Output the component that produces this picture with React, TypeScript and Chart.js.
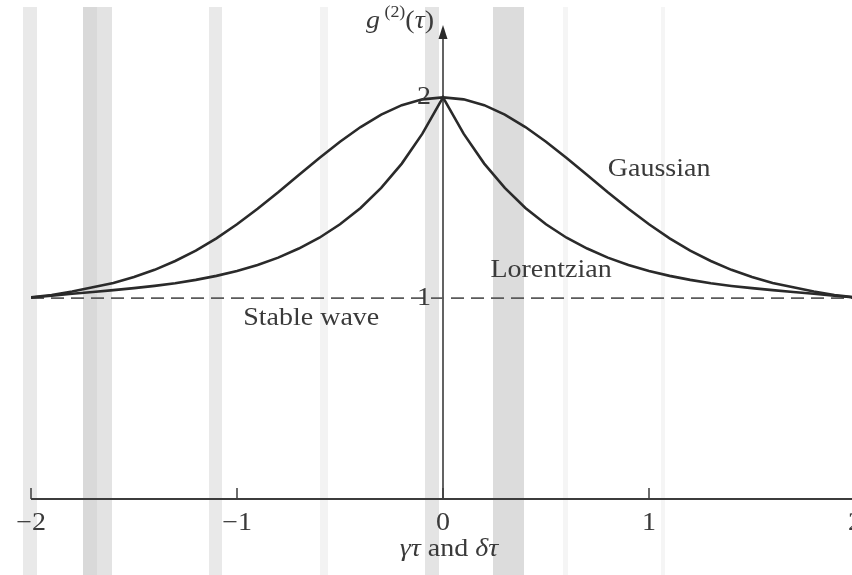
import React, { useEffect, useRef } from "react";
import { Chart, registerables } from "chart.js";

Chart.register(...registerables);

// Sample positions (γτ or δτ) shared by both curves
const X_VALUES = [
  -2, -1.9, -1.8, -1.7, -1.6, -1.5, -1.4, -1.3, -1.2, -1.1, -1,
  -0.9, -0.8, -0.7, -0.6, -0.5, -0.4, -0.3, -0.2, -0.1, 0,
  0.1, 0.2, 0.3, 0.4, 0.5, 0.6, 0.7, 0.8, 0.9, 1,
  1.1, 1.2, 1.3, 1.4, 1.5, 1.6, 1.7, 1.8, 1.9, 2,
];

// g(2)(τ) for Gaussian-broadened light
const GAUSSIAN = [
  1.004, 1.016, 1.033, 1.054, 1.075, 1.105, 1.141, 1.185, 1.237, 1.298, 1.368,
  1.445, 1.527, 1.613, 1.698, 1.779, 1.852, 1.914, 1.961, 1.99, 2,
  1.99, 1.961, 1.914, 1.852, 1.779, 1.698, 1.613, 1.527, 1.445, 1.368,
  1.298, 1.237, 1.185, 1.141, 1.105, 1.075, 1.054, 1.033, 1.016, 1.004,
];

// g(2)(τ) for Lorentzian-broadened light
const LORENTZIAN = [
  1.003, 1.012, 1.022, 1.031, 1.04, 1.05, 1.061, 1.074, 1.091, 1.111, 1.135,
  1.165, 1.202, 1.247, 1.301, 1.368, 1.449, 1.549, 1.67, 1.819, 2,
  1.819, 1.67, 1.549, 1.449, 1.368, 1.301, 1.247, 1.202, 1.165, 1.135,
  1.111, 1.091, 1.074, 1.061, 1.05, 1.04, 1.031, 1.022, 1.012, 1.003,
];

// Stable wave: constant g(2) = 1
const STABLE_X = [-2, 2];
const STABLE_Y = [1, 1];

const X_TICKS = [-2, -1, 0, 1, 2];
const X_TICK_LABELS = ["\u22122", "\u22121", "0", "1", "2"];
const Y_TICKS = [1, 2];
const Y_TICK_LABELS = ["1", "2"];

const SERIF = '"Liberation Serif", "DejaVu Serif", serif';
const INK = "#2a2a2a";
const TEXT = "#3a3a3a";
const SX = 1.12;

// Pale vertical stripes over the page background: [left, width, colour]
const STRIPES: [number, number, string][] = [
  [23, 14, "#e9e9e9"],
  [83, 14, "#d9d9d9"],
  [97, 15, "#e3e3e3"],
  [209, 13, "#e9e9e9"],
  [320, 8, "#f3f3f3"],
  [425, 14, "#e4e4e4"],
  [493, 31, "#dcdcdc"],
  [563, 5, "#f5f5f5"],
  [661, 4, "#f5f5f5"],
];

type Run = { t: string; italic?: boolean; scale?: number; dy?: number };

function drawRuns(
  ctx: CanvasRenderingContext2D,
  runs: Run[],
  x: number,
  y: number,
  size: number,
  align: "left" | "center" | "right"
) {
  ctx.save();
  ctx.textBaseline = "middle";
  ctx.textAlign = "left";
  ctx.fillStyle = TEXT;
  const fontOf = (r: Run) =>
    `${r.italic ? "italic " : ""}${Math.round(size * (r.scale ?? 1))}px ${SERIF}`;
  let total = 0;
  for (const r of runs) {
    ctx.font = fontOf(r);
    total += ctx.measureText(r.t).width;
  }
  total *= SX;
  let cx = align === "left" ? x : align === "center" ? x - total / 2 : x - total;
  for (const r of runs) {
    ctx.font = fontOf(r);
    const w = ctx.measureText(r.t).width;
    ctx.save();
    ctx.translate(cx, y + (r.dy ?? 0));
    ctx.scale(SX, 1);
    ctx.fillText(r.t, 0, 0);
    ctx.restore();
    cx += w * SX;
  }
  ctx.restore();
}

const stripesPlugin = {
  id: "stripes",
  beforeDraw(chart: any) {
    const { ctx, width, height } = chart;
    ctx.save();
    ctx.fillStyle = "#ffffff";
    ctx.fillRect(0, 0, width, height);
    for (const [left, w, c] of STRIPES) {
      ctx.fillStyle = c;
      ctx.fillRect(left, 7, w, height - 7);
    }
    ctx.restore();
  },
};

const axesPlugin = {
  id: "figureAxes",
  beforeDatasetsDraw(chart: any) {
    const { ctx, width } = chart;
    const xs = chart.scales.x;
    const ys = chart.scales.y;
    const y0 = ys.getPixelForValue(0);
    const x0 = xs.getPixelForValue(0);
    ctx.save();
    ctx.strokeStyle = "#3c3c3c";
    // horizontal axis with upward ticks
    ctx.lineWidth = 2;
    ctx.beginPath();
    ctx.moveTo(xs.getPixelForValue(-2), y0);
    ctx.lineTo(width, y0);
    ctx.stroke();
    ctx.lineWidth = 1.5;
    for (const v of X_TICKS) {
      const px = xs.getPixelForValue(v);
      ctx.beginPath();
      ctx.moveTo(px, y0);
      ctx.lineTo(px, y0 - 11);
      ctx.stroke();
    }
    // vertical axis with arrow head
    const tip = ys.getPixelForValue(2.36);
    ctx.lineWidth = 1.6;
    ctx.beginPath();
    ctx.moveTo(x0, y0);
    ctx.lineTo(x0, tip + 8);
    ctx.stroke();
    ctx.fillStyle = "#2a2a2a";
    ctx.beginPath();
    ctx.moveTo(x0, tip);
    ctx.lineTo(x0 - 4.5, tip + 14);
    ctx.lineTo(x0 + 4.5, tip + 14);
    ctx.closePath();
    ctx.fill();
    ctx.restore();
  },
  afterDatasetsDraw(chart: any) {
    const { ctx } = chart;
    const xs = chart.scales.x;
    const ys = chart.scales.y;
    const y0 = ys.getPixelForValue(0);
    const x0 = xs.getPixelForValue(0);
    X_TICKS.forEach((v, i) => {
      drawRuns(ctx, [{ t: X_TICK_LABELS[i] }], xs.getPixelForValue(v), y0 + 24, 25, "center");
    });
    Y_TICKS.forEach((v, i) => {
      drawRuns(ctx, [{ t: Y_TICK_LABELS[i] }], x0 - 12, ys.getPixelForValue(v), 25, "right");
    });
    // axis titles
    drawRuns(
      ctx,
      [
        { t: "g", italic: true },
        { t: " (2)", scale: 0.62, dy: -8 },
        { t: "(" },
        { t: "τ", italic: true },
        { t: ")" },
      ],
      x0 - 9,
      ys.getPixelForValue(2.38),
      25,
      "right"
    );
    drawRuns(
      ctx,
      [
        { t: "γτ", italic: true },
        { t: " and " },
        { t: "δτ", italic: true },
      ],
      x0 + 6,
      y0 + 50,
      25,
      "center"
    );
    // curve names
    drawRuns(ctx, [{ t: "Gaussian" }], xs.getPixelForValue(0.8), ys.getPixelForValue(1.64), 25, "left");
    drawRuns(ctx, [{ t: "Lorentzian" }], xs.getPixelForValue(0.23), ys.getPixelForValue(1.14), 25, "left");
    drawRuns(ctx, [{ t: "Stable wave" }], xs.getPixelForValue(-0.97), ys.getPixelForValue(0.9), 25, "left");
  },
};

export default function App() {
  const ref = useRef<HTMLCanvasElement | null>(null);

  useEffect(() => {
    if (!ref.current) return;
    const pts = (xv: number[], yv: number[]) => xv.map((x, i) => ({ x, y: yv[i] }));
    const chart = new Chart(ref.current, {
      type: "line",
      data: {
        datasets: [
          {
            label: "Gaussian",
            data: pts(X_VALUES, GAUSSIAN),
            borderColor: INK,
            borderWidth: 2.6,
            pointRadius: 0,
            tension: 0,
            order: 1,
          },
          {
            label: "Lorentzian",
            data: pts(X_VALUES, LORENTZIAN),
            borderColor: INK,
            borderWidth: 2.6,
            pointRadius: 0,
            tension: 0,
            order: 2,
          },
          {
            label: "Stable wave",
            data: pts(STABLE_X, STABLE_Y),
            borderColor: "#5a5a5a",
            borderWidth: 1.7,
            borderDash: [13, 7],
            pointRadius: 0,
            order: 3,
          },
        ],
      },
      options: {
        responsive: false,
        animation: false,
        layout: { padding: { left: 31, right: 25, top: 17, bottom: 76 } },
        plugins: {
          legend: { display: false },
          tooltip: { enabled: false },
        },
        scales: {
          x: { type: "linear", min: -2, max: 2, display: false },
          y: { type: "linear", min: 0, max: 2.4, display: false },
        },
      },
      plugins: [stripesPlugin, axesPlugin],
    });
    return () => chart.destroy();
  }, []);

  return (
    <div
      style={{
        position: "fixed",
        left: 0,
        top: 0,
        width: 852,
        height: 575,
        overflow: "hidden",
        background: "#fff",
      }}
    >
      <canvas ref={ref} width={880} height={575} style={{ display: "block" }} />
    </div>
  );
}
